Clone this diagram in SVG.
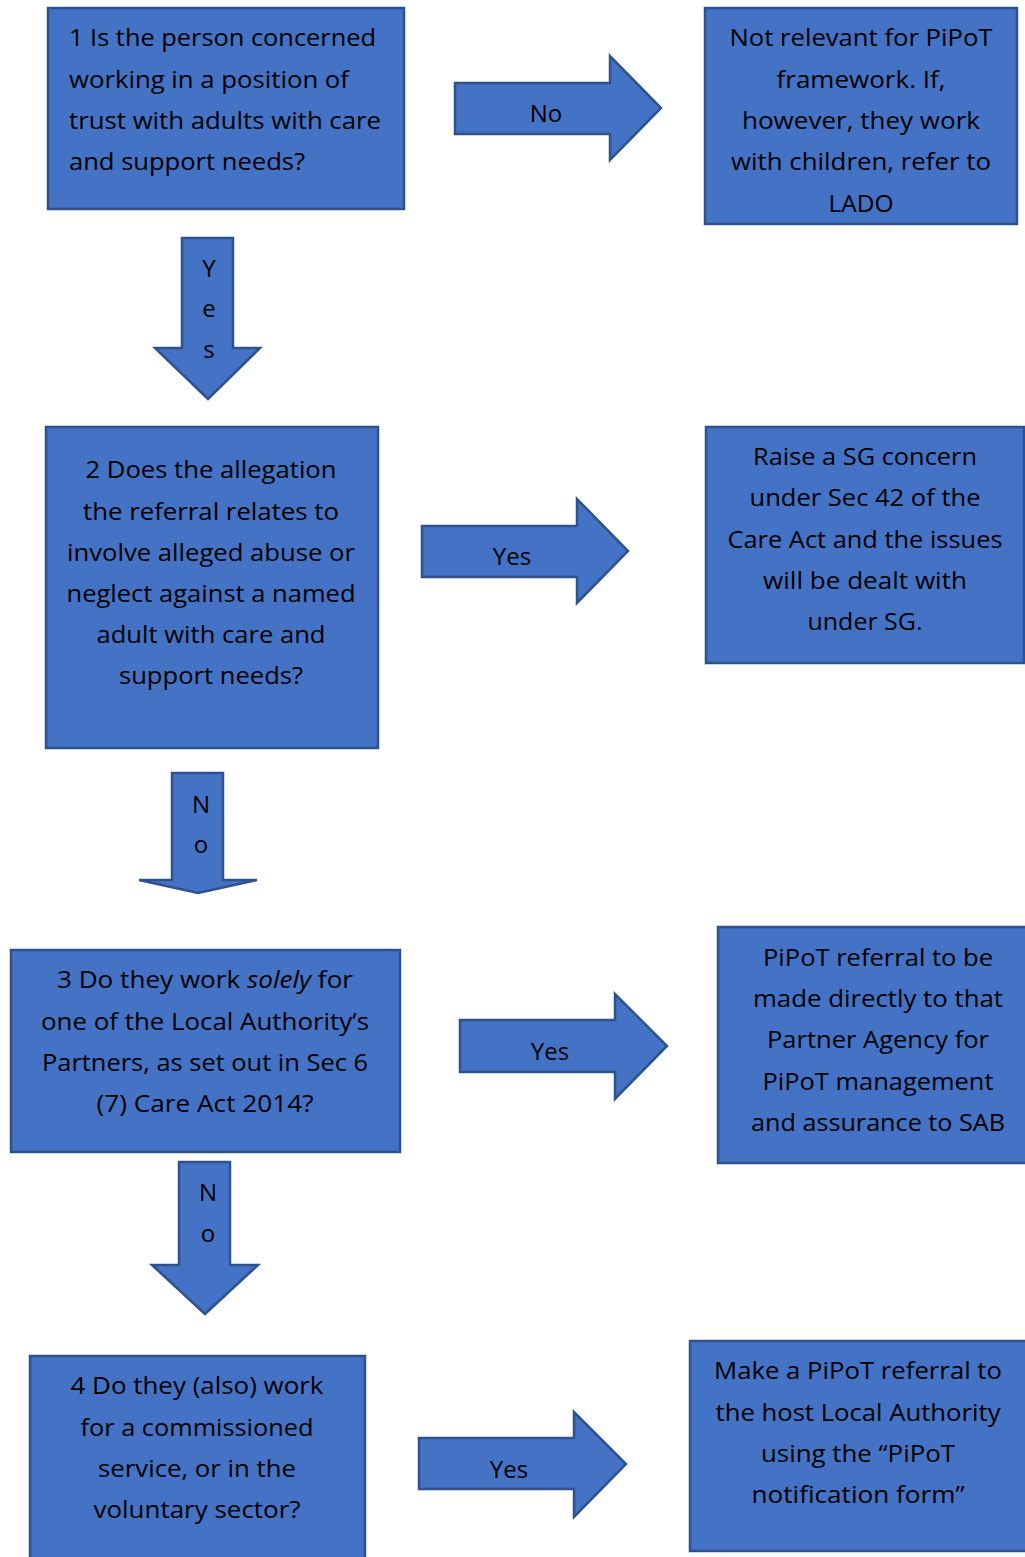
<svg xmlns="http://www.w3.org/2000/svg" width="1025" height="1557" viewBox="0 0 1025 1557">
<style>
.box{fill:#4472C4;stroke:#2F528F;stroke-width:2.5}
.arr{fill:#4472C4;stroke:#2F528F;stroke-width:2.5;stroke-linejoin:miter}
text{font-family:"Open Sans","Liberation Sans",sans-serif;font-size:24px;fill:#000}
.c{text-anchor:middle}
</style>
<rect width="1025" height="1557" fill="#fff"/>
<g id="connectors">
<g id="a1"><path class="arr" d="M455,83 H610 V56 L661,108 L610,160 V134 H455 Z"/><text class="c" x="546" y="122">No</text></g>
<g id="a2"><path class="arr" d="M182,238 H233 V348 H260 L208,399 L155,348 H182 Z"/><text class="c" x="209" y="277">Y</text><text class="c" x="209" y="317">e</text><text class="c" x="209" y="358">s</text></g>
<g id="a3"><path class="arr" d="M422,526 H577 V499 L628,551 L577,603 V577 H422 Z"/><text class="c" x="512" y="565">Yes</text></g>
<g id="a4"><path class="arr" d="M172,773 H223 V880 H257 L198,893 L139,880 H172 Z"/><text class="c" x="201" y="813">N</text><text class="c" x="201" y="853">o</text></g>
<g id="a5"><path class="arr" d="M460,1020 H615 V994 L667,1046 L615,1099 V1072 H460 Z"/><text class="c" x="550" y="1060">Yes</text></g>
<g id="a6"><path class="arr" d="M179,1162 H230 V1265 H258 L205,1314 L152,1265 H179 Z"/><text class="c" x="208" y="1201">N</text><text class="c" x="208" y="1242">o</text></g>
<g id="a7"><path class="arr" d="M419,1438 H574 V1412 L626,1464 L574,1517 V1489 H419 Z"/><text class="c" x="509" y="1478">Yes</text></g>
</g>
<g id="n1"><rect class="box" x="48" y="8" width="356" height="201"/>
<text x="69" y="46" textLength="307" lengthAdjust="spacingAndGlyphs">1 Is the person concerned</text>
<text x="69" y="88" textLength="280" lengthAdjust="spacingAndGlyphs">working in a position of</text>
<text x="69" y="129" textLength="312" lengthAdjust="spacingAndGlyphs">trust with adults with care</text>
<text x="69" y="170" textLength="236" lengthAdjust="spacingAndGlyphs">and support needs?</text></g>
<g id="n1r"><rect class="box" x="705" y="8" width="312" height="216"/>
<text class="c" x="861" y="46" textLength="263" lengthAdjust="spacingAndGlyphs">Not relevant for PiPoT</text>
<text class="c" x="861" y="88" textLength="169" lengthAdjust="spacingAndGlyphs">framework. If,</text>
<text class="c" x="861" y="129" textLength="238" lengthAdjust="spacingAndGlyphs">however, they work</text>
<text class="c" x="861" y="170" textLength="260" lengthAdjust="spacingAndGlyphs">with children, refer to</text>
<text class="c" x="861" y="212" textLength="65" lengthAdjust="spacingAndGlyphs">LADO</text></g>
<g id="n2"><rect class="box" x="46" y="427" width="332" height="321"/>
<text class="c" x="211" y="478" textLength="251" lengthAdjust="spacingAndGlyphs">2 Does the allegation</text>
<text class="c" x="211" y="520" textLength="256" lengthAdjust="spacingAndGlyphs">the referral relates to</text>
<text class="c" x="211" y="561" textLength="288" lengthAdjust="spacingAndGlyphs">involve alleged abuse or</text>
<text class="c" x="211" y="602" textLength="289" lengthAdjust="spacingAndGlyphs">neglect against a named</text>
<text class="c" x="211" y="643" textLength="229" lengthAdjust="spacingAndGlyphs">adult with care and</text>
<text class="c" x="211" y="684" textLength="184" lengthAdjust="spacingAndGlyphs">support needs?</text></g>
<g id="n2r"><rect class="box" x="706" y="427" width="318" height="236"/>
<text class="c" x="865" y="465" textLength="224" lengthAdjust="spacingAndGlyphs">Raise a SG concern</text>
<text class="c" x="865" y="506" textLength="231" lengthAdjust="spacingAndGlyphs">under Sec 42 of the</text>
<text class="c" x="865" y="548" textLength="275" lengthAdjust="spacingAndGlyphs">Care Act and the issues</text>
<text class="c" x="865" y="589" textLength="204" lengthAdjust="spacingAndGlyphs">will be dealt with</text>
<text class="c" x="865" y="630" textLength="115" lengthAdjust="spacingAndGlyphs">under SG.</text></g>
<g id="n3"><rect class="box" x="11" y="950" width="389" height="202"/>
<text class="c" x="205" y="988" textLength="296" lengthAdjust="spacingAndGlyphs">3 Do they work <tspan font-style="italic">solely</tspan> for</text>
<text class="c" x="205" y="1030" textLength="328" lengthAdjust="spacingAndGlyphs">one of the Local Authority’s</text>
<text class="c" x="205" y="1071" textLength="326" lengthAdjust="spacingAndGlyphs">Partners, as set out in Sec 6</text>
<text class="c" x="205" y="1112" textLength="217" lengthAdjust="spacingAndGlyphs">(7) Care Act 2014?</text></g>
<g id="n3r"><rect class="box" x="718" y="927" width="312" height="236"/>
<text class="c" x="878" y="966" textLength="230" lengthAdjust="spacingAndGlyphs">PiPoT referral to be</text>
<text class="c" x="878" y="1007" textLength="250" lengthAdjust="spacingAndGlyphs">made directly to that</text>
<text class="c" x="878" y="1048" textLength="222" lengthAdjust="spacingAndGlyphs">Partner Agency for</text>
<text class="c" x="878" y="1090" textLength="231" lengthAdjust="spacingAndGlyphs">PiPoT management</text>
<text class="c" x="878" y="1131" textLength="254" lengthAdjust="spacingAndGlyphs">and assurance to SAB</text></g>
<g id="n4"><rect class="box" x="30" y="1356" width="335" height="210"/>
<text class="c" x="197" y="1394" textLength="253" lengthAdjust="spacingAndGlyphs">4 Do they (also) work</text>
<text class="c" x="197" y="1436" textLength="233" lengthAdjust="spacingAndGlyphs">for a commissioned</text>
<text class="c" x="197" y="1477" textLength="198" lengthAdjust="spacingAndGlyphs">service, or in the</text>
<text class="c" x="197" y="1518" textLength="207" lengthAdjust="spacingAndGlyphs">voluntary sector?</text></g>
<g id="n4r"><rect class="box" x="690" y="1341" width="340" height="210"/>
<text class="c" x="858" y="1379" textLength="288" lengthAdjust="spacingAndGlyphs">Make a PiPoT referral to</text>
<text class="c" x="858" y="1421" textLength="285" lengthAdjust="spacingAndGlyphs">the host Local Authority</text>
<text class="c" x="858" y="1462" textLength="194" lengthAdjust="spacingAndGlyphs">using the “PiPoT</text>
<text class="c" x="858" y="1503" textLength="213" lengthAdjust="spacingAndGlyphs">notification form”</text></g>
</svg>
